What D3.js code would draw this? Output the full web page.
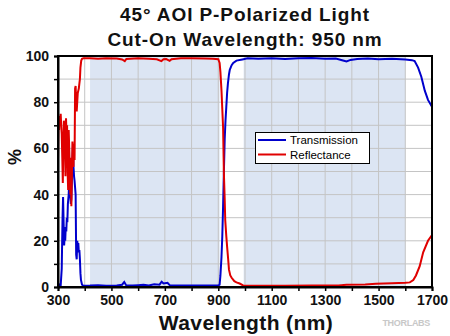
<!DOCTYPE html>
<html><head><meta charset="utf-8">
<script src="https://cdn.jsdelivr.net/npm/d3@7"></script>
<style>body{margin:0;background:#fff}svg{display:block}</style>
</head><body>
<svg id="c" width="450" height="336"></svg>
<script>
const titleLines = ["45\u00b0 AOI P-Polarized Light", "Cut-On Wavelength: 950 nm"];
const xLabel = "Wavelength (nm)";
const yLabel = "%";
const xTicks = [300, 500, 700, 900, 1100, 1300, 1500, 1700];
const yTicks = [0, 20, 40, 60, 80, 100];
const shadedBands = [[420, 905], [995, 1600]];
const seriesNames = ["Transmission", "Reflectance"];

const tWl = [300,305,310,314,317,319,321,323,325,327,329,331,333,335,337,340,342,344,346,348,350,352,354,356,358,360,362,364,366,368,370,372,374,376,378,380,382,384,386,390,395,420,450,480,520,540,548,555,580,600,620,640,660,680,688,695,710,718,740,780,820,860,900,905,908,912,915,918,921,924,927,930,933,936,940,943,950,956,968,990,1010,1050,1100,1150,1200,1250,1300,1340,1360,1380,1395,1420,1460,1500,1550,1600,1625,1635,1648,1660,1673,1685,1700];
const tVal = [0.5,1,0.5,8,30,39,28,18,22,20,26,24,30,28,36,40,46,44,40,36,38,46,55,61,52,48,46,43,40,14,12,20,18,19,15,16,12,6,3,1,0.5,0.6,0.8,0.5,0.7,1,2.2,0.8,0.6,0.8,1,0.7,1.2,1,2.3,1.5,1.8,0.8,0.6,0.6,0.7,0.6,0.7,1,5,13,22,35,50,64,72,78,84,88,92,94,96,97,98,98.5,99,98.8,99,98.7,99,99.1,98.8,98.9,98.3,97.6,98.3,98.7,98.9,98.6,98.8,98.5,98.2,97.8,95,91,85,81,78];

const rWl = [300,301,302,304,306,308,310,312,314,316,318,320,322,324,326,328,330,332,334,336,338,340,342,344,346,348,350,352,354,356,358,360,362,364,366,368,370,372,374,376,378,380,382,384,387,390,395,420,450,480,520,540,550,556,600,640,670,687,695,705,718,725,760,800,850,880,900,905,908,912,915,918,921,924,926,930,933,937,940,945,950,960,968,980,993,1050,1150,1250,1350,1380,1450,1490,1550,1600,1617,1630,1640,1654,1667,1685,1700];
const rVal = [54,64,71,68,74,72,75,70,66,56,45,62,72,69,60,48,73,66,70,50,42,68,60,52,40,56,35,48,63,58,52,62,55,86,87,80,76,80,84,85,86,88,90,95,98,98.8,99,99,98.8,99,98.9,98.5,97.8,98.7,99,98.8,98.6,97.8,98.6,98.7,97.9,98.6,99,99,98.9,98.8,98.6,97,93,85,77,69,49,38,29,22,17.5,12,7.5,5,4,2.5,2,1.5,0.7,0.5,0.5,0.6,0.7,1,1.1,1.4,1.6,1.8,2,3,5,9,15,20,22.5];

const svg = d3.select("#c");
const L = 58, R = 432, T = 56, B = 287;
const x = d3.scaleLinear().domain([300, 1700]).range([L, R]);
const y = d3.scaleLinear().domain([0, 100]).range([B, T]);
const font = "Arial, 'Liberation Sans', sans-serif";

// title
svg.selectAll("text.title").data(titleLines).enter().append("text")
  .attr("x", (L + R) / 2).attr("y", (d, i) => 21 + i * 25)
  .attr("text-anchor", "middle").attr("font-family", font)
  .attr("font-weight", "bold").attr("font-size", 19).attr("letter-spacing", 0.9).attr("fill", "#111")
  .text(d => d);

// shaded bands
svg.selectAll("rect.band").data(shadedBands).enter().append("rect")
  .attr("x", d => x(d[0])).attr("width", d => x(d[1]) - x(d[0]))
  .attr("y", T).attr("height", B - T).attr("fill", "#dce5f3");

// grid
const gx = d3.range(300, 1701, 100), gy = d3.range(0, 101, 10);
svg.selectAll("line.gx").data(gx).enter().append("line")
  .attr("x1", d => x(d)).attr("x2", d => x(d)).attr("y1", T).attr("y2", B)
  .attr("stroke", "#c4c4c4").attr("stroke-width", 1);
svg.selectAll("line.gy").data(gy).enter().append("line")
  .attr("y1", d => y(d)).attr("y2", d => y(d)).attr("x1", L).attr("x2", R)
  .attr("stroke", "#c4c4c4").attr("stroke-width", 1);

// lines
const line = d3.line().x(d => x(d[0])).y(d => y(d[1]));
svg.append("path").datum(tWl.map((w, i) => [w, tVal[i]]))
  .attr("d", line).attr("fill", "none").attr("stroke", "#0000cc").attr("stroke-width", 2);
svg.append("path").datum(rWl.map((w, i) => [w, rVal[i]]))
  .attr("d", line).attr("fill", "none").attr("stroke", "#e00000").attr("stroke-width", 2);

// frame
svg.append("rect").attr("x", L).attr("y", T).attr("width", R - L).attr("height", B - T)
  .attr("fill", "none").attr("stroke", "#000").attr("stroke-width", 2);

// axes
const xAxis = d3.axisBottom(x).tickValues(d3.range(300, 1701, 100)).tickSize(4)
  .tickFormat(d => xTicks.includes(d) ? d : "");
const gX = svg.append("g").attr("transform", `translate(0,${B})`).call(xAxis);
const yAxis = d3.axisLeft(y).tickValues(d3.range(0, 101, 10)).tickSize(4)
  .tickFormat(d => yTicks.includes(d) ? d : "");
const gY = svg.append("g").attr("transform", `translate(${L},0)`).call(yAxis);
[gX, gY].forEach(g => {
  g.select(".domain").attr("stroke", "#000").attr("stroke-width", 2);
  g.selectAll(".tick line").attr("stroke", "#000").attr("stroke-width", 1.5);
  g.selectAll("text").attr("font-family", font).attr("font-weight", "bold")
    .attr("font-size", 14).attr("fill", "#111");
});
gX.selectAll("text").attr("dy", "0.71em").attr("y", 8);
gY.selectAll("text").attr("x", -9);

// axis titles
svg.append("text").attr("x", (L + R) / 2 + 1).attr("y", 330).attr("text-anchor", "middle")
  .attr("font-family", font).attr("font-weight", "bold").attr("font-size", 21).attr("letter-spacing", 0.4).attr("fill", "#111")
  .text(xLabel);
svg.append("text").attr("transform", "translate(21,157) rotate(-90)").attr("text-anchor", "middle")
  .attr("font-family", font).attr("font-weight", "bold").attr("font-size", 18).attr("fill", "#111")
  .text(yLabel);

// legend
const lg = svg.append("g");
lg.append("rect").attr("x", 255.5).attr("y", 132.5).attr("width", 114).attr("height", 31)
  .attr("fill", "#fff").attr("stroke", "#000").attr("stroke-width", 1);
const colors = ["#0000cc", "#e00000"];
seriesNames.forEach((n, i) => {
  const yy = 140 + i * 14.5;
  lg.append("line").attr("x1", 258).attr("x2", 286).attr("y1", yy).attr("y2", yy)
    .attr("stroke", colors[i]).attr("stroke-width", 2);
  lg.append("text").attr("x", 290).attr("y", yy + 4).attr("font-family", font)
    .attr("font-size", 11.5).attr("fill", "#000").text(n);
});

// logo
svg.append("text").attr("x", 430).attr("y", 326).attr("text-anchor", "end")
  .attr("font-family", font).attr("font-weight", "bold").attr("font-size", 9)
  .attr("fill", "#c8c8c8").attr("letter-spacing", -0.3).text("THORLABS");
</script>
</body></html>
